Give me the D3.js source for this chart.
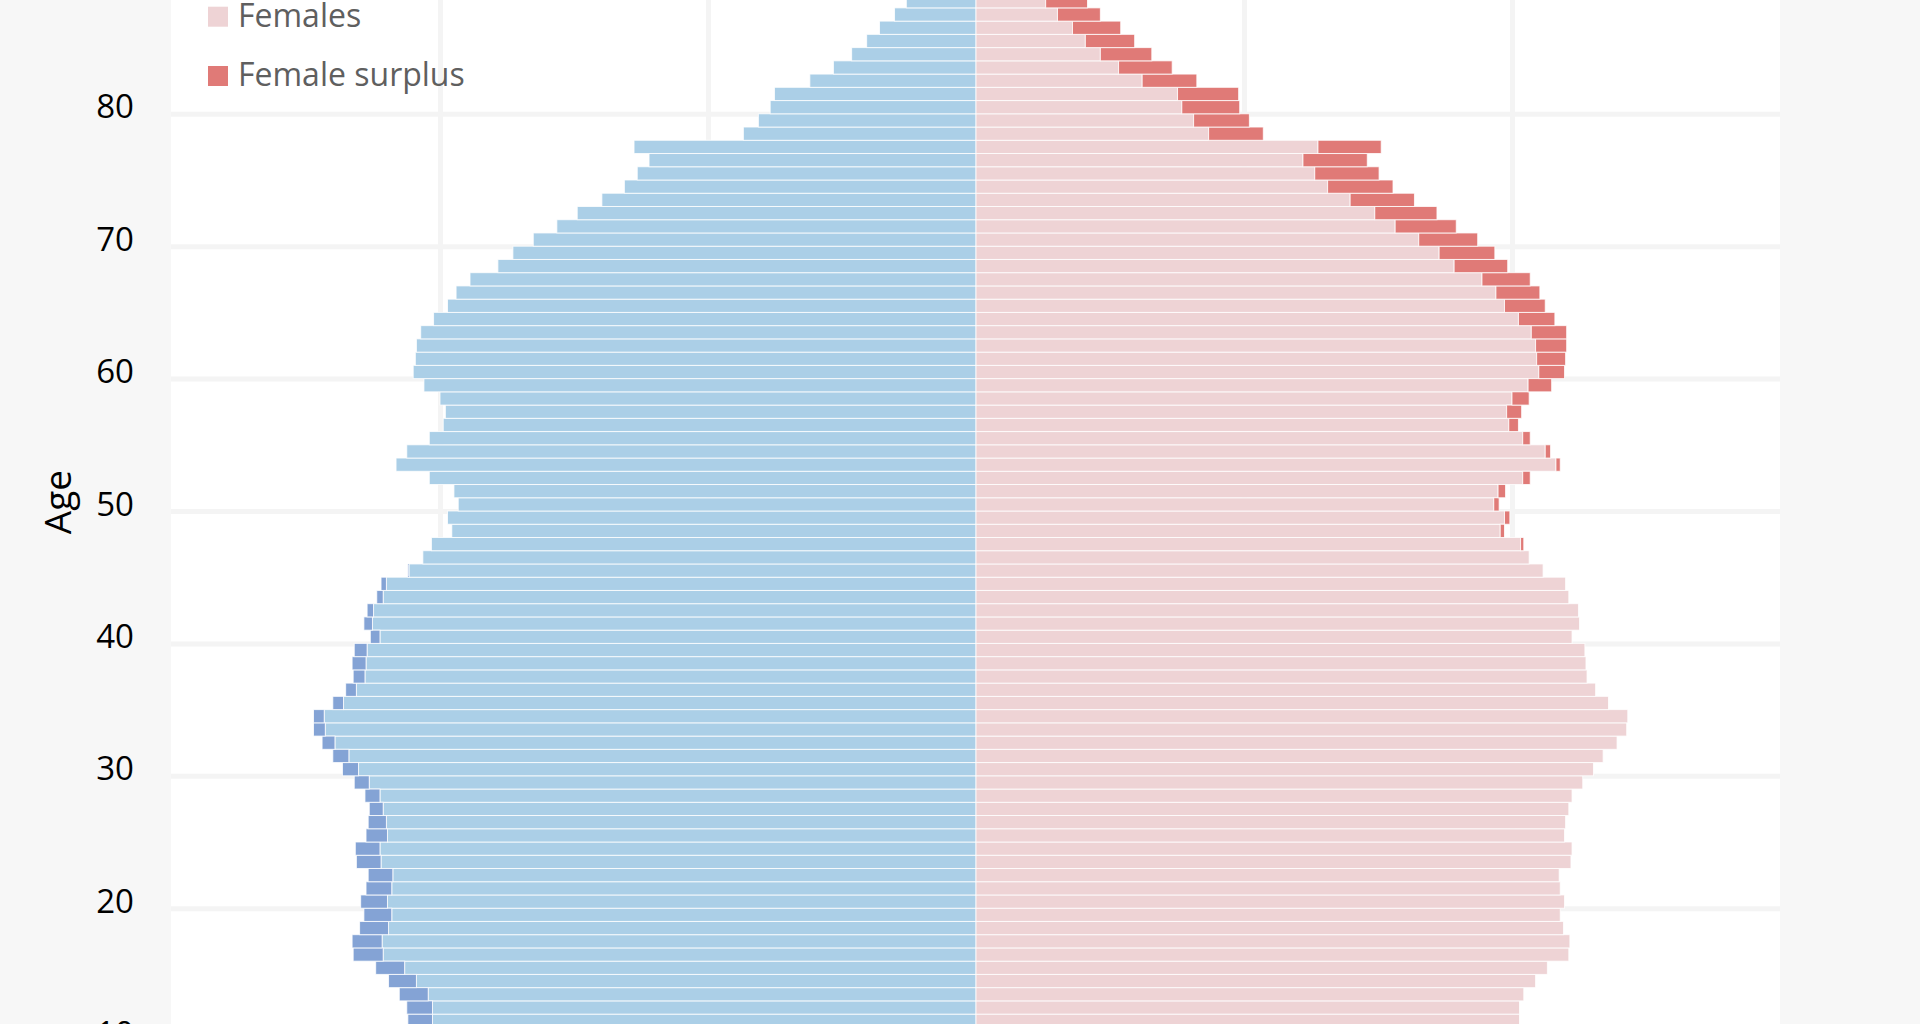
<!DOCTYPE html>
<html>
<head>
<meta charset="utf-8">
<script src="https://cdn.jsdelivr.net/npm/d3@7"></script>
<style>
  html, body { margin: 0; padding: 0; background: #f7f7f7; overflow: hidden; }
  svg { display: block; font-family: "Open Sans", sans-serif; }
</style>
</head>
<body>
<div id="chart"></div>
<script>
// single years of age in view, youngest first
var ages = d3.range(11, 89);

// population by age, thousands
var males = [
  53.0, 53.1, 53.8, 54.8, 56.0, 58.1, 58.2, 57.5, 57.1, 57.4,   // 11-20
  56.9, 56.7, 57.8, 57.9, 56.9, 56.7, 56.6, 57.0, 58.0, 59.1,   // 21-30
  60.0, 61.0, 61.8, 61.8, 60.0, 58.8, 58.1, 58.2, 58.0, 56.5,   // 31-40
  57.1, 56.8, 55.9, 55.5, 53.0, 51.6, 50.8, 48.9, 49.3, 48.3,   // 41-50
  48.7, 51.0, 54.1, 53.1, 51.0, 49.7, 49.5, 50.0, 51.5, 52.5,   // 51-60
  52.3, 52.2, 51.8, 50.6, 49.3, 48.5, 47.2, 44.6, 43.2, 41.3,   // 61-70
  39.1, 37.2, 34.9, 32.8, 31.6, 30.5, 31.9, 21.7, 20.3, 19.2,   // 71-80
  18.8, 15.5, 13.3, 11.6, 10.2, 9.0, 7.6, 6.5                   // 81-88
];
var females = [
  50.7, 50.7, 51.1, 52.2, 53.3, 55.3, 55.4, 54.8, 54.5, 54.9,   // 11-20
  54.5, 54.4, 55.5, 55.6, 54.9, 55.0, 55.3, 55.6, 56.6, 57.6,   // 21-30
  58.5, 59.8, 60.7, 60.8, 59.0, 57.8, 57.0, 56.9, 56.8, 55.6,   // 31-40
  56.3, 56.2, 55.3, 55.0, 52.9, 51.6, 51.1, 49.3, 49.8, 48.8,   // 41-50
  49.4, 51.7, 54.5, 53.6, 51.7, 50.6, 50.9, 51.6, 53.7, 54.9,   // 51-60
  55.0, 55.1, 55.1, 54.0, 53.1, 52.6, 51.7, 49.6, 48.4, 46.8,   // 61-70
  44.8, 43.0, 40.9, 38.9, 37.6, 36.5, 37.8, 26.8, 25.5, 24.6,   // 71-80
  24.5, 20.6, 18.3, 16.4, 14.8, 13.5, 11.6, 10.4                // 81-88
];

var ageTicks = [10, 20, 30, 40, 50, 60, 70, 80];
var valueTicks = [-50, -25, 0, 25, 50];
var legendLabels = ['Females', 'Female surplus'];

var colors = {
  male: '#abcfe7',
  maleSurplus: '#84a3d5',
  female: '#eed3d5',
  femaleSurplus: '#e07a77'
};

var W = 1920, H = 1024;
var plot = {left: 171, right: 1780};

var svg = d3.select('#chart')
  .append('svg')
  .attr('width', W)
  .attr('height', H);

// white plot area
svg.append('rect')
  .attr('x', plot.left)
  .attr('y', 0)
  .attr('width', plot.right - plot.left)
  .attr('height', H)
  .attr('fill', '#ffffff');

var x = d3.scaleLinear()
  .domain([-75, 75])
  .range([172, 1780]);

// one year is ~13.24px, age 80 sits at y=113.8
var y = d3.scaleLinear()
  .domain([0, 80])
  .range([113.8 + 80 * 13.24, 113.8]);

// vertical grid
svg.append('g')
  .attr('class', 'xgrid')
  .call(d3.axisBottom(x).tickValues(valueTicks).tickSize(H).tickFormat(''))
  .call(function(g) { g.select('.domain').remove(); })
  .selectAll('line')
  .attr('stroke', '#f4f4f4')
  .attr('stroke-width', 5);

// horizontal grid + age labels
var yAxis = svg.append('g')
  .attr('transform', `translate(${plot.left},0)`)
  .call(d3.axisLeft(y).tickValues(ageTicks).tickSize(-(plot.right - plot.left)).tickPadding(37))
  .call(function(g) { g.select('.domain').remove(); });

yAxis.selectAll('line')
  .attr('stroke', '#f4f4f4')
  .attr('stroke-width', 5);

yAxis.selectAll('text')
  .attr('fill', '#000')
  .attr('dy', null)
  .attr('y', 4)
  .style('font-size', '33px')
  .style('font-family', '"Open Sans", sans-serif');

var rows = ages.map(function(a, i) {
  var m = males[i], f = females[i];
  return {age: a, m: m, f: f, both: Math.min(m, f)};
});

var bars = svg.append('g');

function addBars(cls, x0, x1, color) {
  bars.selectAll('rect.' + cls)
    .data(rows.filter(function(d) { return x1(d) - x0(d) > 0.01; }))
    .enter()
    .append('rect')
    .attr('class', cls)
    .attr('x', function(d) { return x(x0(d)); })
    .attr('y', function(d) { return y(d.age + 1); })
    .attr('width', function(d) { return x(x1(d)) - x(x0(d)); })
    .attr('height', function(d) { return y(d.age) - y(d.age + 1); })
    .attr('fill', color)
    .attr('stroke', '#ffffff')
    .attr('stroke-width', 1)
    .attr('stroke-opacity', 0.8);
}

addBars('male', function(d) { return -d.both; }, function() { return 0; }, colors.male);
addBars('male-surplus', function(d) { return -d.m; }, function(d) { return -d.both; }, colors.maleSurplus);
addBars('female', function() { return 0; }, function(d) { return d.both; }, colors.female);
addBars('female-surplus', function(d) { return d.both; }, function(d) { return d.f; }, colors.femaleSurplus);

// legend (top of it runs out of view)
var legendColors = [colors.female, colors.femaleSurplus];
var legend = svg.append('g')
  .selectAll('g')
  .data(legendLabels)
  .enter()
  .append('g')
  .attr('transform', function(d, i) { return `translate(208,${26.7 + i * 59.3})`; });

legend.append('rect')
  .attr('x', 0)
  .attr('y', -20)
  .attr('width', 20)
  .attr('height', 20)
  .attr('fill', function(d, i) { return legendColors[i]; });

legend.append('text')
  .attr('x', 30)
  .attr('y', 0)
  .attr('fill', '#5f5f5f')
  .style('font-size', '32px')
  .text(function(d) { return d; });

// axis title
svg.append('text')
  .attr('transform', 'translate(56,502) rotate(-90)')
  .attr('text-anchor', 'middle')
  .attr('dominant-baseline', 'central')
  .attr('fill', '#000')
  .style('font-size', '37px')
  .text('Age');
</script>
</body>
</html>
